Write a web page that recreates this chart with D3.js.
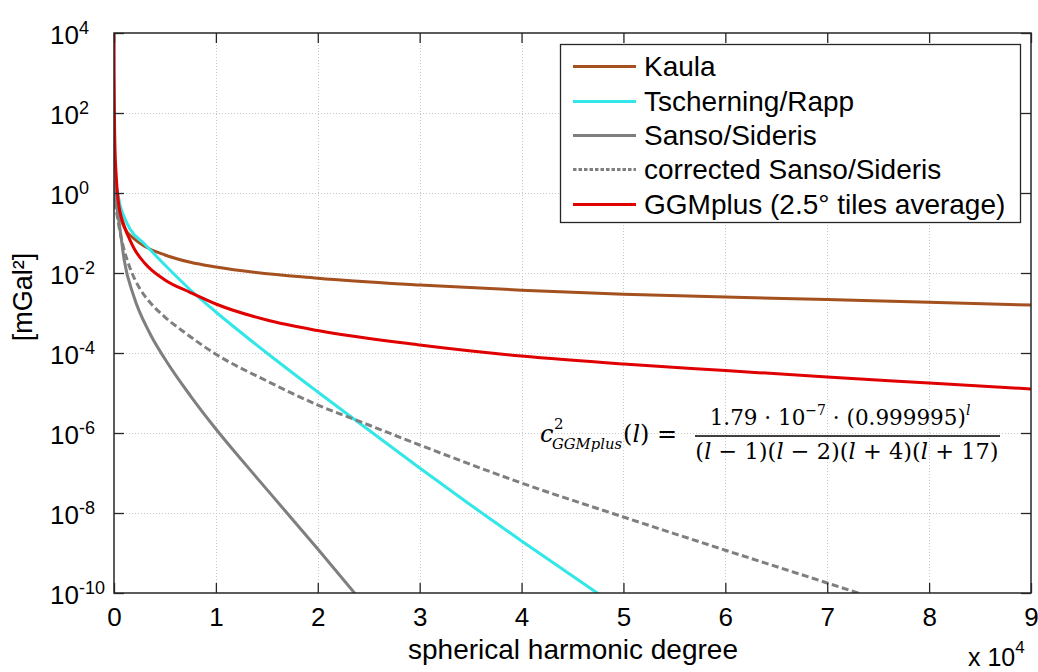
<!DOCTYPE html>
<html>
<head>
<meta charset="utf-8">
<script src="https://cdn.jsdelivr.net/npm/d3@7"></script>
<style>
  html, body { margin: 0; padding: 0; background: #fff; }
  svg { display: block; font-family: "Liberation Sans", Arial, sans-serif; }
</style>
</head>
<body>
<svg id="chart" width="1038" height="672"></svg>
<script>
// ---------------- data ----------------
const xTickValues = [0, 10000, 20000, 30000, 40000, 50000, 60000, 70000, 80000, 90000];
const xTickLabels = ["0", "1", "2", "3", "4", "5", "6", "7", "8", "9"];
const yTickValues = [1e4, 1e2, 1e0, 1e-2, 1e-4, 1e-6, 1e-8, 1e-10];
const yTickExponents = ["4", "2", "0", "-2", "-4", "-6", "-8", "-10"];

const seriesNames = ["Kaula", "Tscherning/Rapp", "Sanso/Sideris", "corrected Sanso/Sideris", "GGMplus (2.5° tiles average)"];

const kaulaDeg = [2, 10, 50, 100, 300, 1000, 2000, 3000, 5000, 7500, 10000, 20000, 30000, 40000, 50000, 60000, 70000, 80000, 90000];
const kaulaVal = [31.6, 10, 5.0, 2.0, 0.50, 0.141, 0.0708, 0.0468, 0.0282, 0.0186, 0.0141, 0.00741, 0.00501, 0.00372, 0.00295, 0.00251, 0.00216, 0.00186, 0.00158];

const tschDeg = [2, 100, 300, 590, 1000, 1570, 3000, 5000, 7500, 10000, 15000, 20000, 25000, 30000, 35000, 40000, 45000, 48000];
const tschVal = [3.98, 2.0, 1.19, 0.501, 0.251, 0.126, 0.0531, 0.0158, 0.00376, 1.06e-3, 1.0e-4, 1.06e-5, 1.19e-6, 1.33e-7, 1.585e-8, 2.0e-9, 2.66e-10, 7.94e-11];

const sansoDeg = [2, 100, 300, 590, 1000, 1900, 3500, 5000, 7500, 10000, 13000, 16600, 20000, 24000];
const sansoVal = [2.0, 0.794, 0.398, 0.126, 0.0211, 0.00282, 3.16e-4, 7.08e-5, 8.51e-6, 1.26e-6, 1.53e-7, 1.30e-8, 1.26e-9, 7.59e-11];

const corrDeg = [2, 100, 300, 590, 1000, 1570, 2500, 3500, 5000, 7000, 10000, 15000, 20000, 25000, 30000, 40000, 50000, 60000, 70000, 74000];
const corrVal = [2.0, 0.631, 0.282, 0.106, 0.0376, 0.0133, 4.22e-3, 1.88e-3, 7.94e-4, 3.16e-4, 9.33e-5, 2.0e-5, 5.01e-6, 1.585e-6, 5.01e-7, 5.62e-8, 7.94e-9, 1.175e-9, 1.78e-10, 8.3e-11];

const ggmDeg = [3, 10, 50, 100, 200, 420, 1000, 1570, 2000, 3000, 5000, 7500, 10000, 15000, 20000, 30000, 40000, 50000, 60000, 70000, 80000, 90000];
const ggmVal = [1e4, 1e3, 63.1, 12.6, 3.16, 0.631, 0.150, 0.0668, 0.0398, 0.0178, 6.68e-3, 3.25e-3, 1.68e-3, 6.68e-4, 3.65e-4, 1.585e-4, 8.41e-5, 5.31e-5, 3.65e-5, 2.51e-5, 1.78e-5, 1.26e-5];

// ---------------- layout ----------------
const svg = d3.select("#chart");
const pL = 114, pR = 1031, pT = 33, pB = 593;
const x = d3.scaleLinear().domain([0, 90000]).range([pL, pR]);
const y = d3.scaleLog().domain([1e-10, 1e4]).range([pB, pT]);

const series = [
  { name: seriesNames[0], deg: kaulaDeg, val: kaulaVal, color: "#A5501F", dash: null },
  { name: seriesNames[1], deg: tschDeg, val: tschVal, color: "#33E6E8", dash: null },
  { name: seriesNames[2], deg: sansoDeg, val: sansoVal, color: "#7F7F7F", dash: null },
  { name: seriesNames[3], deg: corrDeg, val: corrVal, color: "#7F7F7F", dash: "7,3.5" },
  { name: seriesNames[4], deg: ggmDeg, val: ggmVal, color: "#E00000", dash: null }
];

// clip
svg.append("defs").append("clipPath").attr("id", "plotclip")
  .append("rect").attr("x", pL).attr("y", pT).attr("width", pR - pL).attr("height", pB - pT);

// grid
const grid = svg.append("g").attr("stroke", "#c8c8c8").attr("stroke-width", 1).attr("stroke-dasharray", "1,2");
grid.selectAll("line.gx").data(xTickValues.slice(1, -1)).join("line")
  .attr("x1", d => Math.round(x(d)) + 0.5).attr("x2", d => Math.round(x(d)) + 0.5)
  .attr("y1", pT).attr("y2", pB);
grid.selectAll("line.gy").data(yTickValues.slice(1, -1)).join("line")
  .attr("y1", d => Math.round(y(d)) + 0.5).attr("y2", d => Math.round(y(d)) + 0.5)
  .attr("x1", pL).attr("x2", pR);

// curves
const lineGen = d3.line().x(d => x(d[0])).y(d => y(d[1])).curve(d3.curveMonotoneX);
const curves = svg.append("g").attr("clip-path", "url(#plotclip)");
series.forEach(s => {
  const pts = s.deg.map((d, i) => [d, s.val[i]]);
  curves.append("path").datum(pts)
    .attr("d", lineGen)
    .attr("fill", "none")
    .attr("stroke", s.color)
    .attr("stroke-width", 3)
    .attr("stroke-dasharray", s.dash)
    .attr("stroke-linejoin", "round");
});

// axes (ticks inward)
const axisColor = "#262626";
const sans = "Liberation Sans, Arial, sans-serif";
const gB = svg.append("g").attr("transform", `translate(0,${pB})`)
  .call(d3.axisBottom(x).tickValues(xTickValues).tickSizeInner(-10).tickSizeOuter(0).tickPadding(15)
    .tickFormat((d, i) => xTickLabels[i]));
const gT = svg.append("g").attr("transform", `translate(0,${pT})`)
  .call(d3.axisTop(x).tickValues(xTickValues).tickSizeInner(-10).tickSizeOuter(0).tickFormat(""));
const gL = svg.append("g").attr("transform", `translate(${pL},0)`)
  .call(d3.axisLeft(y).tickValues(yTickValues).tickSizeInner(-10).tickSizeOuter(0).tickFormat(""));
const gR = svg.append("g").attr("transform", `translate(${pR},0)`)
  .call(d3.axisRight(y).tickValues(yTickValues).tickSizeInner(-10).tickSizeOuter(0).tickFormat(""));
[gB, gT, gL, gR].forEach(g => {
  g.attr("font-family", sans);
  g.select(".domain").remove();
  g.selectAll(".tick line").attr("stroke", axisColor).attr("stroke-width", 1.3);
});
gB.attr("font-size", 26);
gB.selectAll(".tick text").attr("fill", "#000");

// y tick labels 10^n
gL.selectAll(".tick").each(function (d, i) {
  const t = d3.select(this).append("text")
    .attr("x", 50 - pL).attr("y", 10).attr("text-anchor", "start")
    .attr("font-size", 26).attr("fill", "#000");
  t.append("tspan").text("10");
  t.append("tspan").attr("font-size", 18).attr("dy", -10).text(yTickExponents[i]);
});

// plot frame
svg.append("rect").attr("x", pL).attr("y", pT).attr("width", pR - pL).attr("height", pB - pT)
  .attr("fill", "none").attr("stroke", axisColor).attr("stroke-width", 1.5);

// axis labels
svg.append("text").attr("x", 573).attr("y", 659).attr("text-anchor", "middle")
  .attr("font-size", 28).text("spherical harmonic degree");
const xm = svg.append("text").attr("x", 968).attr("y", 666).attr("font-size", 25);
xm.append("tspan").text("x 10");
xm.append("tspan").attr("font-size", 17).attr("dy", -13).text("4");

svg.append("text").attr("transform", "translate(32,297) rotate(-90)").attr("text-anchor", "middle")
  .attr("font-size", 27).text("[mGal²]");

// legend
const lg = svg.append("g");
lg.append("rect").attr("x", 560.5).attr("y", 44.5).attr("width", 460).attr("height", 178)
  .attr("fill", "#fff").attr("stroke", axisColor).attr("stroke-width", 1.3);
const legY = [66.5, 101.5, 135.5, 169.5, 204.5];
series.forEach((s, i) => {
  lg.append("line").attr("x1", 573).attr("x2", 636).attr("y1", legY[i]).attr("y2", legY[i])
    .attr("stroke", s.color).attr("stroke-width", 3)
    .attr("stroke-dasharray", s.dash ? "3.5,2" : null);
  lg.append("text").attr("x", 644).attr("y", legY[i] + 9).attr("font-size", 28).text(s.name);
});

// formula
const serif = "DejaVu Serif, Liberation Serif, serif";
const fm = svg.append("g").attr("font-family", serif);
fm.append("text").attr("x", 540).attr("y", 442).attr("font-size", 24).attr("font-style", "italic").text("c");
fm.append("text").attr("x", 554).attr("y", 429).attr("font-size", 15).text("2");
fm.append("text").attr("x", 552).attr("y", 449).attr("font-size", 15).attr("font-style", "italic")
  .attr("textLength", 70).attr("lengthAdjust", "spacingAndGlyphs").text("GGMplus");
const lp = fm.append("text").attr("x", 623).attr("y", 442).attr("font-size", 24);
lp.append("tspan").text("(");
lp.append("tspan").attr("font-style", "italic").text("l");
lp.append("tspan").text(") =");

const num = fm.append("text").attr("x", 840).attr("y", 425).attr("text-anchor", "middle")
  .attr("font-size", 21.5);
num.append("tspan").text("1.79 · 10");
num.append("tspan").attr("font-size", 14).attr("dy", -10).text("−7");
num.append("tspan").attr("dy", 10).text(" · (0.999995)");
num.append("tspan").attr("font-size", 14).attr("font-style", "italic").attr("dy", -10).text("l");

fm.append("line").attr("x1", 695).attr("x2", 1000).attr("y1", 436).attr("y2", 436)
  .attr("stroke", "#000").attr("stroke-width", 1.5);

const den = fm.append("text").attr("x", 847).attr("y", 459).attr("text-anchor", "middle")
  .attr("font-size", 22.5);
["1", "2", "4", "17"].forEach((n, i) => {
  den.append("tspan").text("(");
  den.append("tspan").attr("font-style", "italic").text("l");
  den.append("tspan").text(i < 2 ? " − " + n + ")" : " + " + n + ")");
});
</script>
</body>
</html>
